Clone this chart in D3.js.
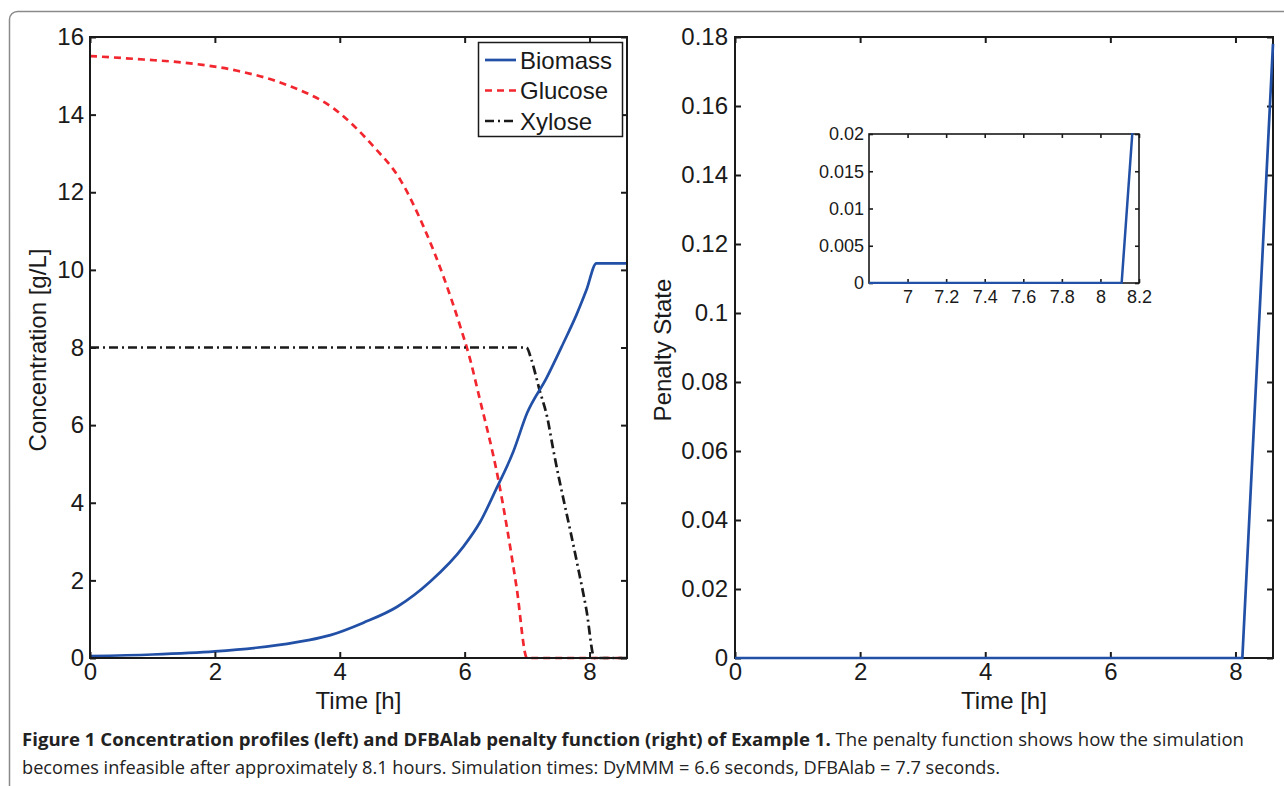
<!DOCTYPE html>
<html>
<head>
<meta charset="utf-8">
<script src="https://cdn.jsdelivr.net/npm/d3@7"></script>
<style>
  html, body { margin: 0; padding: 0; background: #fff; }
  svg { display: block; }
  text { font-family: "Liberation Sans", Arial, sans-serif; fill: #1a1a1a; }
  text.caption { font-family: "Open Sans", "Noto Sans", sans-serif; fill: #222; }
</style>
</head>
<body>
<svg id="fig" width="1284" height="786"></svg>
<script>
// ---- Example 1: concentration profiles (time in h, concentrations in g/L)
const biomassT = [0, 1, 2, 3, 3.5, 3.85, 4.38, 4.92, 5.45, 5.98, 6.25, 6.51, 6.78, 7.0, 7.31, 7.58, 7.79, 7.95, 8.11, 8.6];
const biomassV = [0.05, 0.09, 0.17, 0.33, 0.46, 0.59, 0.91, 1.32, 1.97, 2.87, 3.51, 4.37, 5.32, 6.31, 7.21, 8.11, 8.84, 9.48, 10.17, 10.17];

const glucoseT = [0, 0.86, 1.5, 2.36, 3.16, 3.9, 4.54, 4.97, 5.34, 5.66, 5.93, 6.09, 6.22, 6.54, 6.83, 7.0, 8.6];
const glucoseV = [15.51, 15.42, 15.34, 15.13, 14.76, 14.16, 13.18, 12.32, 11.12, 9.83, 8.54, 7.68, 6.82, 4.59, 1.84, 0, 0];

const xyloseT = [0, 6.99, 7.07, 7.2, 7.32, 7.42, 7.79, 7.95, 8.08, 8.6];
const xyloseV = [8, 8, 7.68, 6.9, 6.22, 5.36, 2.53, 1.24, 0, 0];

// ---- DFBAlab penalty state
const penaltyT = [0, 8.11, 8.6];
const penaltyV = [0, 0, 0.178];

// ---- tick labels
const timeTicks = [0, 2, 4, 6, 8];
const concTicks = [0, 2, 4, 6, 8, 10, 12, 14, 16];
const penaltyTicks = [0, 0.02, 0.04, 0.06, 0.08, 0.1, 0.12, 0.14, 0.16, 0.18];
const insetTimeTicks = [7, 7.2, 7.4, 7.6, 7.8, 8, 8.2];
const insetPenaltyTicks = [0, 0.005, 0.01, 0.015, 0.02];

const seriesNames = ["Biomass", "Glucose", "Xylose"];

const BLUE = "#2150a6", RED = "#f2262e", BLACK = "#1a1a1a";
const FS = 24;

const svg = d3.select("#fig");
svg.append("rect").attr("width", 1284).attr("height", 786).attr("fill", "#fff");

// outer figure frame (open to the right and bottom)
svg.append("rect")
  .attr("x", 9.5).attr("y", 11.5).attr("width", 1320).attr("height", 820)
  .attr("rx", 8).attr("ry", 8)
  .attr("fill", "none").attr("stroke", "#8a8a8a").attr("stroke-width", 1.5);

// draws a MATLAB-style boxed axes frame with inward ticks on all four sides
function boxAxes(g, x, y, xt, yt, opt) {
  const [x0, x1] = x.range(), [y0, y1] = y.range();
  const tl = opt.tick;
  const fmtX = opt.fmtX || (d => d3.format("")(d));
  const fmtY = opt.fmtY || (d => d3.format("")(d));
  const bottom = d3.axisBottom(x).tickValues(xt).tickSizeInner(-tl).tickSizeOuter(0).tickPadding(opt.padX).tickFormat(fmtX);
  const top = d3.axisTop(x).tickValues(xt).tickSizeInner(-tl).tickSizeOuter(0).tickFormat("");
  const left = d3.axisLeft(y).tickValues(yt).tickSizeInner(-tl).tickSizeOuter(0).tickPadding(opt.padY).tickFormat(fmtY);
  const right = d3.axisRight(y).tickValues(yt).tickSizeInner(-tl).tickSizeOuter(0).tickFormat("");
  const style = a => {
    a.select(".domain").remove();
    a.selectAll("line").attr("stroke", BLACK).attr("stroke-width", opt.sw);
    a.selectAll("text").attr("font-size", opt.fs).attr("fill", BLACK)
      .attr("font-family", "Liberation Sans, Arial, sans-serif");
  };
  g.append("g").attr("transform", `translate(0,${y0})`).call(bottom).call(style);
  g.append("g").attr("transform", `translate(0,${y1})`).call(top).call(style);
  g.append("g").attr("transform", `translate(${x0},0)`).call(left).call(style);
  g.append("g").attr("transform", `translate(${x1},0)`).call(right).call(style);
  g.append("rect").attr("x", x0).attr("y", y1).attr("width", x1 - x0).attr("height", y0 - y1)
    .attr("fill", "none").attr("stroke", BLACK).attr("stroke-width", opt.sw);
}

function series(T, V) { return T.map((t, i) => [t, V[i]]); }

// ================= left panel: concentrations =================
const xL = d3.scaleLinear().domain([0, 8.6]).range([90, 627]);
const yL = d3.scaleLinear().domain([0, 16]).range([658, 37]);
const gL = svg.append("g");

const lineL = d3.line().x(d => xL(d[0])).y(d => yL(d[1])).curve(d3.curveMonotoneX);
const styles = [
  { data: series(biomassT, biomassV), color: BLUE, dash: null },
  { data: series(glucoseT, glucoseV), color: RED, dash: "7,5" },
  { data: series(xyloseT, xyloseV), color: BLACK, dash: "9,4,2,4" }
];
// Biomass goes on top of the substrate curves
[styles[1], styles[2], styles[0]].forEach(s => {
  gL.append("path").datum(s.data).attr("d", lineL)
    .attr("fill", "none").attr("stroke", s.color).attr("stroke-width", 2.7)
    .attr("stroke-dasharray", s.dash);
});

boxAxes(gL, xL, yL, timeTicks, concTicks, { tick: 6, sw: 2, fs: FS, padX: 5, padY: 6 });

gL.append("text").attr("x", 358.5).attr("y", 709).attr("text-anchor", "middle")
  .attr("font-size", FS).text("Time [h]");
gL.append("text").attr("transform", "translate(46,350) rotate(-90)").attr("text-anchor", "middle")
  .attr("font-size", FS).text("Concentration [g/L]");

// legend
const lg = gL.append("g");
lg.append("rect").attr("x", 478.5).attr("y", 42.5).attr("width", 144).attr("height", 94)
  .attr("fill", "#fff").attr("stroke", BLACK).attr("stroke-width", 1.5);
seriesNames.forEach((name, i) => {
  const yy = 60 + i * 30.5;
  lg.append("line").attr("x1", 485).attr("x2", 516).attr("y1", yy).attr("y2", yy)
    .attr("stroke", styles[i].color).attr("stroke-width", 2.7)
    .attr("stroke-dasharray", styles[i].dash);
  lg.append("text").attr("x", 520).attr("y", yy).attr("dy", "0.36em")
    .attr("font-size", FS).text(name);
});

// ================= right panel: penalty =================
const xR = d3.scaleLinear().domain([0, 8.6]).range([735, 1273]);
const yR = d3.scaleLinear().domain([0, 0.18]).range([658, 37]);
const gR = svg.append("g");
const lineR = d3.line().x(d => xR(d[0])).y(d => yR(d[1]));

boxAxes(gR, xR, yR, timeTicks, penaltyTicks, { tick: 6, sw: 2, fs: FS, padX: 5, padY: 7 });
gR.append("path").datum(series(penaltyT, penaltyV)).attr("d", lineR)
  .attr("fill", "none").attr("stroke", BLUE).attr("stroke-width", 2.7);

gR.append("text").attr("x", 1004).attr("y", 709).attr("text-anchor", "middle")
  .attr("font-size", FS).text("Time [h]");
gR.append("text").attr("transform", "translate(671,350) rotate(-90)").attr("text-anchor", "middle")
  .attr("font-size", FS).text("Penalty State");

// ---- inset: zoom on the onset of the penalty
const xI = d3.scaleLinear().domain([6.8, 8.2]).range([869, 1139]);
const yI = d3.scaleLinear().domain([0, 0.02]).range([283, 134]);
const gI = gR.append("g");
gI.append("rect").attr("x", 869).attr("y", 134).attr("width", 270).attr("height", 149).attr("fill", "#fff");
gI.append("clipPath").attr("id", "insetClip").append("rect")
  .attr("x", 869).attr("y", 133).attr("width", 270).attr("height", 151);
boxAxes(gI, xI, yI, insetTimeTicks, insetPenaltyTicks, {
  tick: 4, sw: 1.6, fs: 18, padX: 7, padY: 5,
  fmtX: d => d3.format("")(+d.toFixed(1)), fmtY: d => d3.format("")(+d.toFixed(3))
});
gI.append("path").datum(series(penaltyT, penaltyV))
  .attr("d", d3.line().x(d => xI(d[0])).y(d => yI(d[1])))
  .attr("clip-path", "url(#insetClip)")
  .attr("fill", "none").attr("stroke", BLUE).attr("stroke-width", 2.5);

// ================= caption =================
function captionLine(y, parts, targetWidth) {
  const t = svg.append("text").attr("class", "caption").attr("font-size", 17.5);
  parts.forEach(p => t.append("tspan").attr("font-weight", p.bold ? 700 : 400).text(p.text));
  const w = t.node().getComputedTextLength();
  t.attr("transform", `translate(22,${y}) scale(${targetWidth / w},1)`);
}
captionLine(746, [
  { bold: true, text: "Figure 1 Concentration profiles (left) and DFBAlab penalty function (right) of Example 1." },
  { bold: false, text: " The penalty function shows how the simulation" }
], 1223);
captionLine(774, [
  { bold: false, text: "becomes infeasible after approximately 8.1 hours. Simulation times: DyMMM = 6.6 seconds, DFBAlab = 7.7 seconds." }
], 978);
</script>
</body>
</html>
